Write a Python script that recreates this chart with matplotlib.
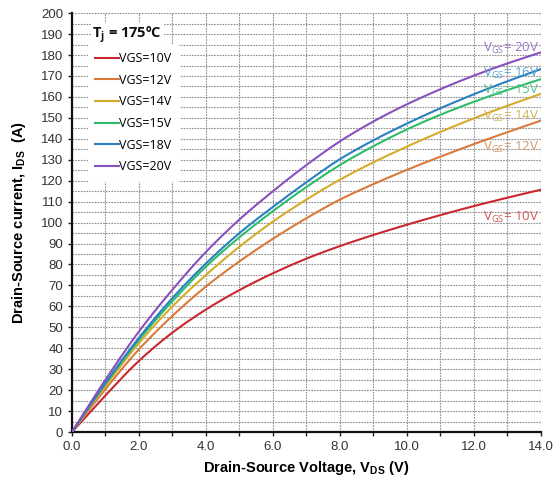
import matplotlib
matplotlib.use("Agg")
import matplotlib.pyplot as plt
import numpy as np
from matplotlib.ticker import MultipleLocator

vds = [0, 1, 2, 3, 4, 5, 6, 7, 8, 9, 10, 11, 12, 13, 14]
id_10 = [0, 17.5, 34, 47.5, 58.5, 67.8, 75.8, 82.8, 88.8, 94.1, 99, 103.6, 107.9, 111.9, 115.7]
id_12 = [0, 20.5, 39.5, 55.5, 69.5, 81.5, 92.3, 102.1, 111, 118.4, 125.2, 131.5, 137.5, 143.2, 148.7]
id_14 = [0, 22, 42.5, 60, 75, 88.5, 100.5, 111, 120.5, 128.8, 136.3, 143.3, 149.8, 155.8, 161.5]
id_15 = [0, 23, 44, 62.5, 79, 93, 105.5, 117, 127.5, 136.5, 144.5, 151.5, 157.7, 163.3, 168.5]
id_18 = [0, 23.5, 45, 64, 80.5, 95, 107.5, 119.3, 130.3, 139.3, 147.3, 154.6, 161.3, 167.5, 173.3]
id_20 = [0, 25, 48, 68, 86, 101.5, 115, 127.5, 138.8, 148.3, 156.5, 163.7, 170.2, 176, 181.3]

legend_labels = ["VGS=10V", "VGS=12V", "VGS=14V", "VGS=15V", "VGS=18V", "VGS=20V"]
curve_labels = ["10V", "12V", "14V", "15V", "16V", "20V"]
label_y = [102.5, 136, 150.5, 163, 171, 183]

series = [id_10, id_12, id_14, id_15, id_18, id_20]
colors = ["#c8282e", "#d97a3c", "#d4ac2a", "#2dbd6a", "#2a80c0", "#8a50bd"]
text_colors = ["#d05a5a", "#d59a6a", "#d2b455", "#55c38a", "#5aa5d5", "#9a78c8"]


def smooth(x, y, n=300):
    """Monotone cubic Hermite (Fritsch-Carlson) for drawing a smooth curve."""
    x = np.asarray(x, float)
    y = np.asarray(y, float)
    h = np.diff(x)
    d = np.diff(y) / h
    m = np.zeros_like(y)
    m[0], m[-1] = d[0], d[-1]
    for k in range(1, len(x) - 1):
        if d[k - 1] * d[k] > 0:
            w1 = 2 * h[k] + h[k - 1]
            w2 = h[k] + 2 * h[k - 1]
            m[k] = (w1 + w2) / (w1 / d[k - 1] + w2 / d[k])
    xs = np.linspace(x[0], x[-1], n)
    idx = np.clip(np.searchsorted(x, xs) - 1, 0, len(x) - 2)
    t = (xs - x[idx]) / h[idx]
    h00 = 2 * t**3 - 3 * t**2 + 1
    h10 = t**3 - 2 * t**2 + t
    h01 = -2 * t**3 + 3 * t**2
    h11 = t**3 - t**2
    ys = h00 * y[idx] + h10 * h[idx] * m[idx] + h01 * y[idx + 1] + h11 * h[idx] * m[idx + 1]
    return xs, ys


fig = plt.figure(figsize=(5.58, 4.87), dpi=100)
ax = fig.add_axes([0.129, 0.1129, 0.8405, 0.8601])

for s, c, lab in zip(series, colors, legend_labels):
    xs, ys = smooth(vds, s)
    ax.plot(xs, ys, color=c, lw=1.5, label=lab, zorder=3)

ax.set_xlim(0, 14)
ax.set_ylim(0, 200)
ax.xaxis.set_major_locator(MultipleLocator(2))
ax.xaxis.set_minor_locator(MultipleLocator(1))
ax.yaxis.set_major_locator(MultipleLocator(10))
ax.yaxis.set_minor_locator(MultipleLocator(5))
ax.set_xticklabels([f"{v:.1f}" for v in ax.get_xticks()])
ax.grid(which="both", color="#8f8f8f", linestyle=(0, (1.5, 1)), lw=0.8, zorder=0)
ax.tick_params(which="both", direction="out", length=3, width=1, colors="#222222",
               labelsize=9.5, labelcolor="#333333")
ax.tick_params(which="minor", length=0, axis="y")
for sp in ["top", "right"]:
    ax.spines[sp].set_visible(False)
for sp in ["left", "bottom"]:
    ax.spines[sp].set_linewidth(1.6)
    ax.spines[sp].set_color("#111111")

ax.set_xlabel("Drain-Source Voltage, V$_{\\mathregular{DS}}$ (V)", fontsize=10.5,
              fontweight="bold", family="Liberation Sans", labelpad=4)
ax.set_ylabel("Drain-Source current, I$_{\\mathregular{DS}}$  (A)", fontsize=10.5,
              fontweight="bold", family="Liberation Sans", labelpad=9)
for t in ax.get_xticklabels() + ax.get_yticklabels():
    t.set_family("Liberation Sans")

leg = ax.legend(loc="upper left", bbox_to_anchor=(0.02, 0.94), frameon=True,
                handlelength=1.9, labelspacing=0.69, borderpad=0.6,
                handletextpad=0.05, prop={"family": "Open Sans", "size": 9})
leg.get_frame().set_facecolor("white")
leg.get_frame().set_edgecolor("white")
leg.get_frame().set_alpha(1)
leg.set_zorder(5)

ax.text(0.6, 189.5, "T$_\\mathregular{j}$ = 175ºC", fontsize=10.5, fontweight="bold",
        family="Open Sans", color="#111111", va="center", zorder=6,
        bbox=dict(facecolor="white", edgecolor="none", pad=1))

for lab, y, tc in zip(curve_labels, label_y, text_colors):
    ax.text(13.95, y, "V$_{\\mathregular{GS}}$= " + lab, fontsize=9.5, color=tc,
            ha="right", va="center", family="Open Sans", zorder=4)

fig.savefig("out.png", dpi=100)
